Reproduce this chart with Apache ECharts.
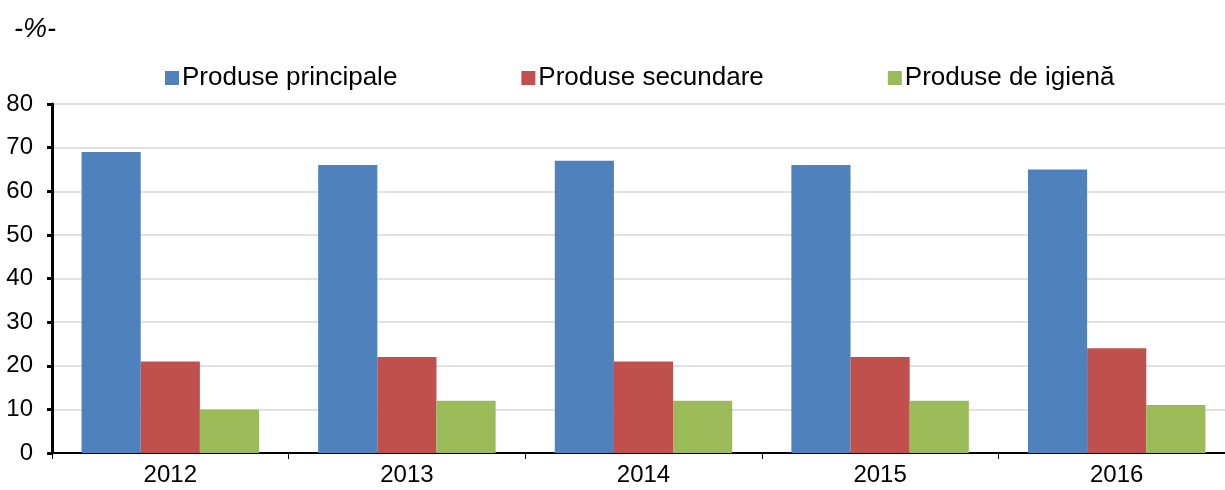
<!DOCTYPE html>
<html>
<head>
<meta charset="utf-8">
<script src="https://cdn.jsdelivr.net/npm/echarts@6/dist/echarts.min.js"></script>
<style>
html, body { margin: 0; padding: 0; background: #fff; }
#chart { width: 1225px; height: 490px; }
</style>
</head>
<body>
<div id="chart"></div>
<script>
var years = ['2012', '2013', '2014', '2015', '2016'];
var principale = [69, 66, 67, 66, 65];
var secundare = [21, 22, 21, 22, 24];
var igiena = [10, 12, 12, 12, 11];

var font = 'Liberation Sans, Arial, sans-serif';

var chart = echarts.init(document.getElementById('chart'));

chart.setOption({
    animation: false,
    title: {
        text: '-%-',
        left: 9,
        top: 11,
        textStyle: {fontFamily: font, fontSize: 27, fontStyle: 'italic', fontWeight: 'normal', color: '#000'}
    },
    legend: {
        left: 160,
        top: 60,
        itemWidth: 14,
        itemHeight: 14,
        itemGap: 124,
        icon: 'rect',
        textStyle: {fontFamily: font, fontSize: 26, color: '#000', padding: [0, 0, 0, -2]},
        data: ['Produse principale', 'Produse secundare', 'Produse de igienă']
    },
    // plot runs slightly past the right edge, as in the original
    grid: {left: 52, width: 1183, top: 104, bottom: 37, outerBoundsMode: 'none'},
    xAxis: {
        type: 'category',
        data: years,
        axisLine: {lineStyle: {color: '#000', width: 2}},
        axisTick: {show: true, length: 6, lineStyle: {color: '#000', width: 1}},
        axisLabel: {fontFamily: font, fontSize: 24, color: '#000', margin: 10}
    },
    yAxis: {
        type: 'value',
        min: 0,
        max: 80,
        interval: 10,
        axisLine: {show: true, lineStyle: {color: '#000', width: 3}},
        axisTick: {show: true, length: 5, lineStyle: {color: '#000', width: 3}},
        axisLabel: {fontFamily: font, fontSize: 24, color: '#000', margin: 19},
        splitLine: {lineStyle: {color: '#d9d9d9', width: 1.5}}
    },
    series: [
        {
            name: 'Produse principale',
            type: 'bar',
            data: principale,
            barGap: '0%',
            barCategoryGap: '25%',
            itemStyle: {color: '#4f81bd'}
        },
        {
            name: 'Produse secundare',
            type: 'bar',
            data: secundare,
            itemStyle: {color: '#c0504d'}
        },
        {
            name: 'Produse de igienă',
            type: 'bar',
            data: igiena,
            itemStyle: {color: '#9bbb59'}
        }
    ]
});

window.addEventListener('resize', function () {
    chart.resize();
});
</script>
</body>
</html>
